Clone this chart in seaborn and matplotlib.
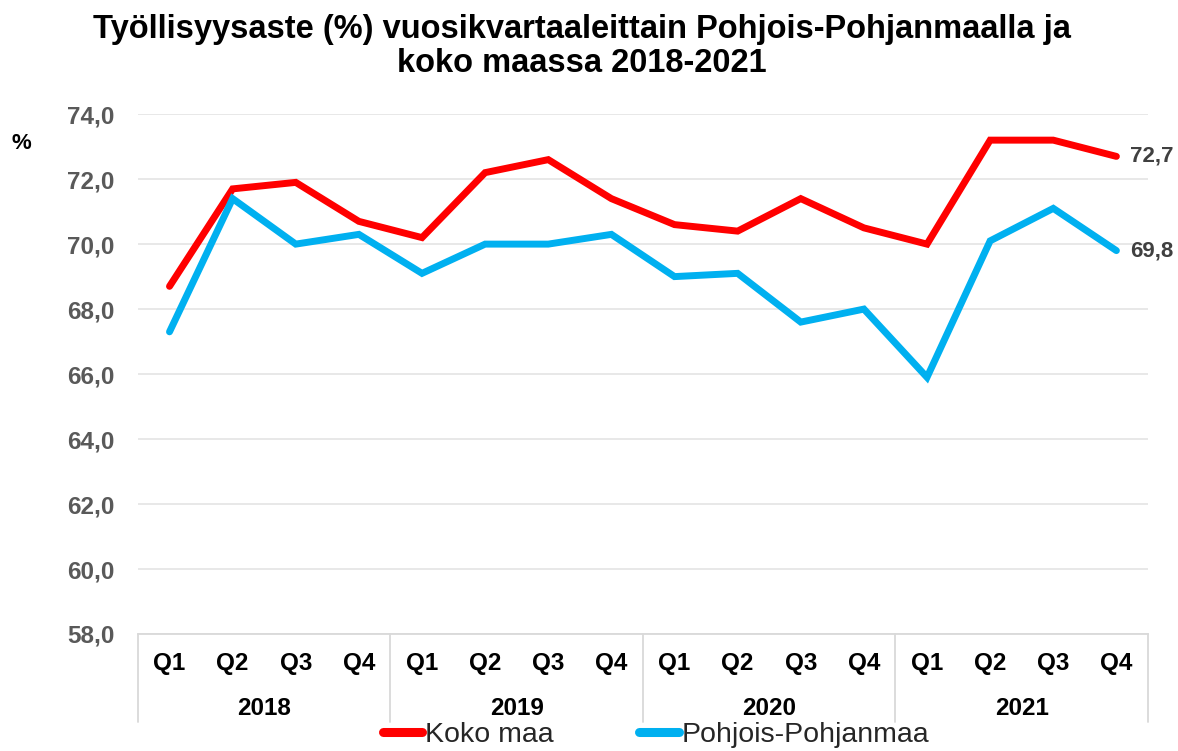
import pandas as pd
import numpy as np
import matplotlib
matplotlib.use("Agg")
import matplotlib.pyplot as plt
import seaborn as sns

years = ["2018", "2019", "2020", "2021"]
quarters = ["Q1", "Q2", "Q3", "Q4"]

koko_maa = [68.7, 71.7, 71.9, 70.7,
            70.2, 72.2, 72.6, 71.4,
            70.6, 70.4, 71.4, 70.5,
            70.0, 73.2, 73.2, 72.7]
pohjois_pohjanmaa = [67.3, 71.4, 70.0, 70.3,
                     69.1, 70.0, 70.0, 70.3,
                     69.0, 69.1, 67.6, 68.0,
                     65.9, 70.1, 71.1, 69.8]

series_names = ["Koko maa", "Pohjois-Pohjanmaa"]
colors = ["#FF0000", "#00B0F0"]

n = len(koko_maa)
df = pd.DataFrame({
    "idx": list(range(n)) * 2,
    "value": koko_maa + pohjois_pohjanmaa,
    "series": [series_names[0]] * n + [series_names[1]] * n,
})

sns.set_style("white")
plt.rcParams["font.family"] = ["Liberation Sans", "DejaVu Sans"]

fig = plt.figure(figsize=(11.78, 7.51), dpi=100)
ax = fig.add_axes([0.1171, 0.1558, 0.8574, 0.6922])

sns.lineplot(data=df, x="idx", y="value", hue="series",
             palette=dict(zip(series_names, colors)),
             linewidth=5, ax=ax, legend=False,
             solid_capstyle="round", solid_joinstyle="miter")

ax.set_xlim(-0.5, n - 0.5)
ax.set_ylim(58, 74)
ax.set_yticks(np.arange(58, 74.1, 2))
ax.set_yticklabels([f"{v:.1f}".replace(".", ",") for v in np.arange(58, 74.1, 2)],
                   fontsize=17.5, fontweight="bold", color="#595959")
ax.tick_params(axis="y", length=0, pad=17)
ax.grid(axis="y", color="#E6E6E6", linewidth=1.3)
ax.set_axisbelow(True)
for s in ["top", "right", "left"]:
    ax.spines[s].set_visible(False)
ax.spines["bottom"].set_color("#D9D9D9")
ax.spines["bottom"].set_linewidth(1.3)

ax.set_xticks(range(n))
ax.set_xticklabels(quarters * len(years), fontsize=17.5, fontweight="bold", color="#000000")
ax.tick_params(axis="x", length=0, pad=13)
ax.set_xlabel("")
ax.set_ylabel("")

# year group labels and separators
trans = ax.get_xaxis_transform()
for i, y in enumerate(years):
    ax.text(i * 4 + 1.5, -0.143, y, transform=trans, ha="center", va="center",
            fontsize=17.5, fontweight="bold", color="#000000")
for i in range(len(years) + 1):
    ax.plot([i * 4 - 0.5, i * 4 - 0.5], [0, -0.169], transform=trans,
            color="#D9D9D9", linewidth=1.3, clip_on=False)

# end labels
ax.text(n - 1 + 0.22, koko_maa[-1], f"{koko_maa[-1]:.1f}".replace(".", ","),
        va="center", ha="left", fontsize=16, fontweight="bold", color="#404040")
ax.text(n - 1 + 0.22, pohjois_pohjanmaa[-1], f"{pohjois_pohjanmaa[-1]:.1f}".replace(".", ","),
        va="center", ha="left", fontsize=16, fontweight="bold", color="#404040")

fig.text(0.01, 0.809, "%", fontsize=16, fontweight="bold", color="#000000", va="center")

fig.text(0.494, 0.938, "Työllisyysaste (%) vuosikvartaaleittain Pohjois-Pohjanmaalla ja\nkoko maassa 2018-2021",
         ha="center", va="center", fontsize=23.5, fontweight="bold", color="#000000",
         linespacing=1.15)

# legend
handles = [plt.Line2D([0], [0], color=c, linewidth=6.5, solid_capstyle="round") for c in colors]
fig.legend(handles, series_names, loc="center", bbox_to_anchor=(0.557, 0.021),
           ncol=2, frameon=False, fontsize=20.5, handlelength=1.4,
           handletextpad=0.1, columnspacing=3.0)

fig.savefig("out.png", dpi=100)
